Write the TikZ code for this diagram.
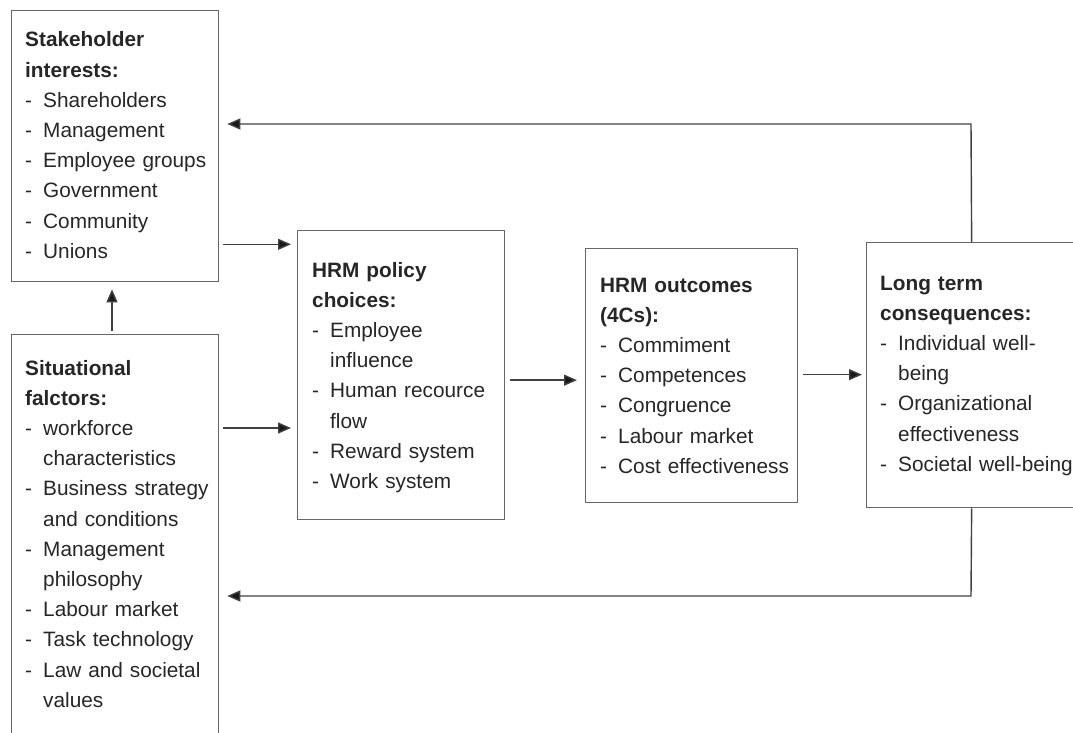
\documentclass[tikz,border=0pt]{standalone}
\usepackage{fontspec}
\setmainfont{Liberation Sans}
\usetikzlibrary{arrows.meta,positioning}

\newcommand{\itm}{\makebox[18pt][l]{-}}
\newcommand{\cnt}{\hspace*{18pt}}

\begin{document}
\begin{tikzpicture}[x=1pt, y=-1pt,
  box/.style={draw=black!60, line width=1.3pt, anchor=north west, inner sep=0pt},
  txt/.style={anchor=base west, inner sep=0pt, text width=200pt, align=left,
    text=black!85, font=\fontsize{20.8}{30.2}\selectfont},
  link/.style={draw=black!75, line width=1.4pt, -{Triangle[length=13pt,width=11pt,fill=black!90]}}
]
\useasboundingbox (0,0) rectangle (1073,733);
\clip (0,0) rectangle (1073,733);

% Boxes
\node[box, minimum width=207pt, minimum height=271pt] (stake) at (11,10) {};
\node[box, minimum width=207pt, minimum height=420pt] (sit) at (11,334) {};
\node[box, minimum width=207pt, minimum height=289pt] (policy) at (297,230) {};
\node[box, minimum width=212pt, minimum height=254pt] (outcome) at (585,248) {};
\node[box, minimum width=210pt, minimum height=265pt] (longterm) at (866,242) {};

% Texts
\node[txt] (stakeT) at (25,47) {\textbf{Stakeholder}\\\textbf{interests:}\\
  \itm Shareholders\\\itm Management\\\itm Employee groups\\
  \itm Government\\\itm Community\\\itm Unions};
\node[txt] (sitT) at (25,375) {\textbf{Situational}\\\textbf{falctors:}\\
  \itm workforce\\\cnt characteristics\\\itm Business strategy\\\cnt and conditions\\
  \itm Management\\\cnt philosophy\\\itm Labour market\\\itm Task technology\\
  \itm Law and societal\\\cnt values};
\node[txt] (policyT) at (312,277) {\textbf{HRM policy}\\\textbf{choices:}\\
  \itm Employee\\\cnt influence\\\itm Human recource\\\cnt flow\\
  \itm Reward system\\\itm Work system};
\node[txt] (outcomeT) at (600,292) {\textbf{HRM outcomes}\\\textbf{(4Cs):}\\
  \itm Commiment\\\itm Competences\\\itm Congruence\\
  \itm Labour market\\\itm Cost effectiveness};
\node[txt] (longtermT) at (880,290) {\textbf{Long term}\\\textbf{consequences:}\\
  \itm Individual well-\\\cnt being\\\itm Organizational\\\cnt effectiveness\\
  \itm Societal well-being};

% Feedback corners
\coordinate (fbtop) at (971,124);
\coordinate (fbbot) at (971,596);

% Arrows
\draw[link, shorten <=3pt, shorten >=7pt] (sit.north -| 112,0) -- (stake.south -| 112,0);
\draw[link, shorten <=4pt, shorten >=6pt] ([yshift=38pt]stake.south east) -- ([yshift=38pt]stake.south east -| policy.west);
\draw[link, shorten <=4pt, shorten >=6pt] ([yshift=-94pt]sit.north east) -- ([yshift=-94pt]sit.north east -| policy.west);
\draw[link, shorten <=5pt, shorten >=8pt] ([yshift=-5pt]policy.east) -- ([yshift=-5pt]policy.east -| outcome.west);
\draw[link, shorten <=5pt, shorten >=4pt] ([yshift=1pt]outcome.east) -- ([yshift=1pt]outcome.east -| longterm.west);
\draw[link] (longterm.north) -- (fbtop) -- ([xshift=8pt]fbtop -| stake.east);
\draw[link] (longterm.south) -- (fbbot) -- ([xshift=8pt]fbbot -| sit.east);

\end{tikzpicture}
\end{document}
